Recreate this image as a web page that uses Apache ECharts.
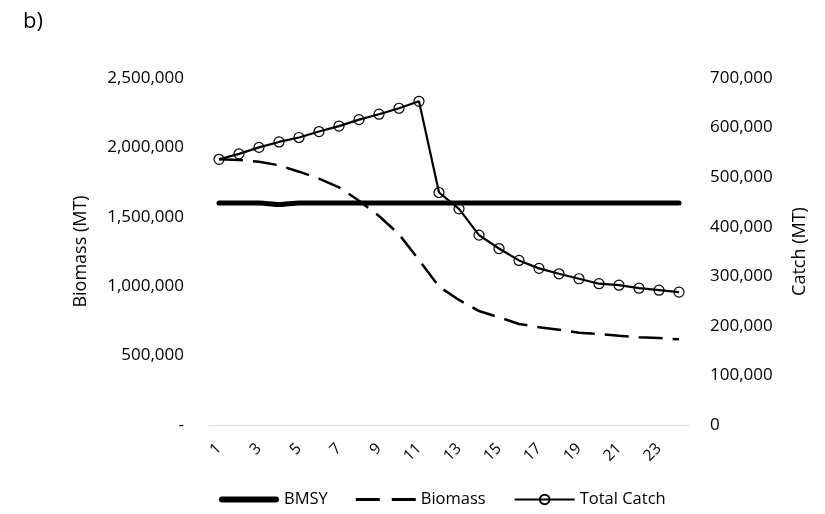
<!DOCTYPE html>
<html>
<head>
<meta charset="utf-8">
<script src="https://cdn.jsdelivr.net/npm/echarts@6/dist/echarts.min.js"></script>
<style>
html,body{margin:0;padding:0;background:#fff;}
#c{width:825px;height:514px;}
</style>
</head>
<body>
<div id="c"></div>
<script>
const years = ['1','2','3','4','5','6','7','8','9','10','11','12','13','14','15','16','17','18','19','20','21','22','23','24'];
const bmsy = [1600000,1600000,1600000,1588000,1600000,1600000,1600000,1600000,1600000,1600000,1600000,1600000,1600000,1600000,1600000,1600000,1600000,1600000,1600000,1600000,1600000,1600000,1600000,1600000];
const biomass = [1914000,1909000,1897000,1871000,1825000,1775000,1712000,1616000,1506000,1374000,1189000,997000,901000,821000,776000,728000,704000,687000,665000,656000,643000,632000,627000,617000];
const totalCatch = [536000,547000,560000,571000,580000,592000,603000,616000,627000,639000,653000,469000,436000,383000,356000,332000,316000,305000,295000,285000,282000,276000,272000,268000];

const FONT = '"Open Sans", "Liberation Sans", sans-serif';
const fmt = v => v === 0 ? '-' : v.toLocaleString('en-US');
const chart = echarts.init(document.getElementById('c'));
chart.setOption({
  animation: false,
  textStyle: {fontFamily: FONT, color: '#000'},
  title: {text: 'b)', left: 18, top: 6, textStyle: {fontFamily: FONT, fontSize: 22, fontWeight: 'normal', color: '#000'}},
  grid: {left: 209, right: 136, top: 78, bottom: 89},
  legend: {
    bottom: 1, left: 214, itemWidth: 60, itemHeight: 12, itemGap: 28,
    textStyle: {fontFamily: FONT, fontSize: 16.5, color: '#000'},
    data: [
      {name: 'BMSY', icon: 'path://M3,0 H57 A3,3 0 0 1 57,6 H3 A3,3 0 0 1 3,0 Z', itemStyle: {color: '#000'}},
      {name: 'Biomass', icon: 'path://M0,0 H24 V3 H0 Z M36,0 H60 V3 H36 Z', itemStyle: {color: '#000'}},
      {name: 'Total Catch'}
    ]
  },
  xAxis: {
    type: 'category', data: years, boundaryGap: true,
    axisLine: {lineStyle: {color: '#d9d9d9', width: 1}},
    axisTick: {show: false},
    axisLabel: {interval: 1, rotate: 45, fontFamily: FONT, fontSize: 15.5, color: '#000', margin: 21}
  },
  yAxis: [
    {
      type: 'value', min: 0, max: 2500000, interval: 500000,
      name: 'Biomass (MT)', nameLocation: 'middle', nameGap: 119, nameRotate: 90,
      nameTextStyle: {fontFamily: FONT, fontSize: 18, color: '#000'},
      axisLine: {show: false}, axisTick: {show: false}, splitLine: {show: false},
      axisLabel: {formatter: fmt, fontFamily: FONT, fontSize: 17, color: '#000', margin: 25}
    },
    {
      type: 'value', min: 0, max: 700000, interval: 100000, position: 'right',
      name: 'Catch (MT)', nameLocation: 'middle', nameGap: 102, nameRotate: 90,
      nameTextStyle: {fontFamily: FONT, fontSize: 18, color: '#000'},
      axisLine: {show: false}, axisTick: {show: false}, splitLine: {show: false},
      axisLabel: {formatter: v => v.toLocaleString('en-US'), fontFamily: FONT, fontSize: 17, color: '#000', margin: 21}
    }
  ],
  series: [
    {
      name: 'BMSY', type: 'line', yAxisIndex: 0, data: bmsy, showSymbol: false, symbol: 'none', smooth: 0.3,
      lineStyle: {color: '#000', width: 5, cap: 'round'}, itemStyle: {color: '#000'}, z: 2
    },
    {
      name: 'Biomass', type: 'line', yAxisIndex: 0, data: biomass, showSymbol: false, symbol: 'none',
      lineStyle: {color: '#000', width: 2.5, type: [24, 10]}, itemStyle: {color: '#000'}, z: 3
    },
    {
      name: 'Total Catch', type: 'line', yAxisIndex: 1, data: totalCatch,
      symbol: 'circle', symbolSize: 10,
      lineStyle: {color: '#000', width: 2.2},
      itemStyle: {color: 'rgba(255,255,255,0)', borderColor: '#000', borderWidth: 1.2}, z: 4
    }
  ]
});
</script>
</body>
</html>
